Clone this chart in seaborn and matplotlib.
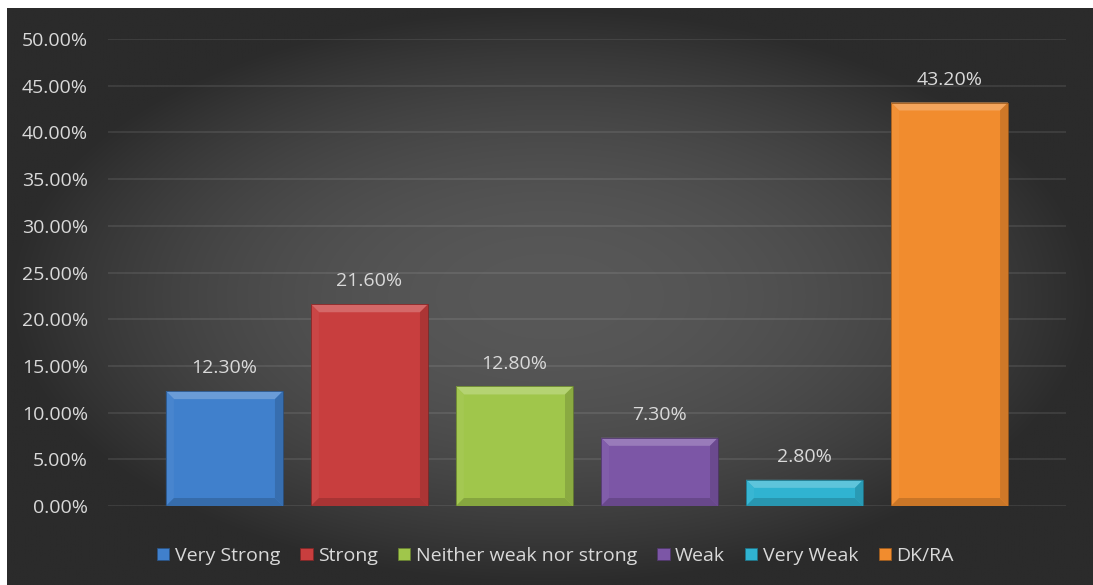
import numpy as np
import pandas as pd
import matplotlib
matplotlib.use("Agg")
import matplotlib.pyplot as plt
import matplotlib.colors as mcolors
from matplotlib.patches import Polygon, Patch
import seaborn as sns

# Survey responses: share of respondents per answer (%)
categories = ["Very Strong", "Strong", "Neither weak nor strong", "Weak", "Very Weak", "DK/RA"]
values = [12.3, 21.6, 12.8, 7.3, 2.8, 43.2]
colors = ["#4080cc", "#c83e3e", "#a0c64b", "#7c56a6", "#30b3d1", "#f18c2e"]
yticks = [0, 5, 10, 15, 20, 25, 30, 35, 40, 45, 50]

W, H = 1093, 585
TEXT = "#d9d9d9"
FS = 14

plt.rcParams["font.family"] = ["Open Sans", "DejaVu Sans"]

fig = plt.figure(figsize=(W / 100, H / 100), dpi=100)
fig.patch.set_facecolor("white")

# Dark radial-gradient backdrop
bg = fig.add_axes([7 / W, 0, (W - 7) / W, (H - 8) / H])
bg.set_axis_off()
gx = np.linspace(-1, 1, 600)
gy = np.linspace(-1, 1, 320)
GX, GY = np.meshgrid(gx, gy)
r = np.clip(np.sqrt(GX ** 2 + GY ** 2), 0, 1)
shade = (88 - 45 * r ** 2) / 255.0
bg.imshow(np.dstack([shade, shade, shade]), aspect="auto", extent=[0, 1, 0, 1],
          interpolation="bilinear")
bg.set_xlim(0, 1)
bg.set_ylim(0, 1)

# Plot area
ax_left, ax_right = 108, 1066
ax_top, ax_bottom = 39, 506
ax = fig.add_axes([ax_left / W, (H - ax_bottom) / H,
                   (ax_right - ax_left) / W, (ax_bottom - ax_top) / H])
ax.set_facecolor("none")

df = pd.DataFrame({"answer": categories, "share": values})
sns.barplot(data=df, x="answer", y="share", hue="answer", palette=colors,
            width=0.807, legend=False, ax=ax, zorder=3,
            edgecolor="none", linewidth=0)

xmin, xmax = -0.803, 5.803
ax.set_xlim(xmin, xmax)
ax.set_ylim(0, 50)
ax.set_yticks(yticks)
ax.set_yticklabels([f"{t:.2f}%" for t in yticks], color=TEXT, fontsize=FS)
ax.set_xticks([])
ax.set_xlabel("")
ax.set_ylabel("")
ax.tick_params(axis="y", length=0, pad=14.4)
for s in ax.spines.values():
    s.set_visible(False)
ax.yaxis.grid(True, color="white", alpha=0.09, linewidth=1.4, zorder=0)
ax.set_axisbelow(True)

# Bevel decoration on each bar, sized in pixels
px_x = (xmax - xmin) / (ax_right - ax_left)
px_y = 50 / (ax_bottom - ax_top)
bev = 8
bx, by = bev * px_x, bev * px_y


def mix(c, other, t):
    a = np.array(mcolors.to_rgb(c))
    b = np.array(mcolors.to_rgb(other))
    return tuple(a * (1 - t) + b * t)


bars = [p for p in ax.patches if p.get_height() > 0]
for p, col in zip(bars, colors):
    x0 = p.get_x()
    x1 = x0 + p.get_width()
    h = p.get_height()
    top = [(x0, h), (x1, h), (x1 - bx, h - by), (x0 + bx, h - by)]
    left = [(x0, 0), (x0, h), (x0 + bx, h - by), (x0 + bx, by)]
    right = [(x1, 0), (x1, h), (x1 - bx, h - by), (x1 - bx, by)]
    bottom = [(x0, 0), (x1, 0), (x1 - bx, by), (x0 + bx, by)]
    for pts, c in [(top, mix(col, "white", 0.22)),
                   (left, mix(col, "white", 0.04)),
                   (right, mix(col, "black", 0.14)),
                   (bottom, mix(col, "black", 0.16))]:
        ax.add_patch(Polygon(pts, closed=True, facecolor=c, edgecolor="none", zorder=4))
    p.set_edgecolor(mix(col, "black", 0.35))
    p.set_linewidth(0.6)
    p.set_zorder(5)
    p.set_facecolor("none")
    ax.add_patch(Polygon([(x0, 0), (x0, h), (x1, h), (x1, 0)], closed=True,
                         facecolor=col, edgecolor="none", zorder=3))

# Value labels
for i, v in enumerate(values):
    ax.annotate(f"{v:.2f}%", xy=(i, v), xytext=(0, 16.5), textcoords="offset points",
                ha="center", va="center", color=TEXT, fontsize=FS, zorder=6)

# Legend along the bottom
handles = [Patch(facecolor=c, edgecolor=mix(c, "black", 0.35), linewidth=0.6)
           for c in colors]
leg = fig.legend(handles, categories, loc="center", bbox_to_anchor=(555.5 / W, 29 / H),
                 ncol=6, frameon=False, fontsize=FS, handlelength=0.62,
                 handleheight=0.62, handletextpad=0.28, columnspacing=1.05,
                 labelcolor=TEXT, borderaxespad=0)

fig.savefig("out.png", dpi=100, facecolor=fig.get_facecolor())
